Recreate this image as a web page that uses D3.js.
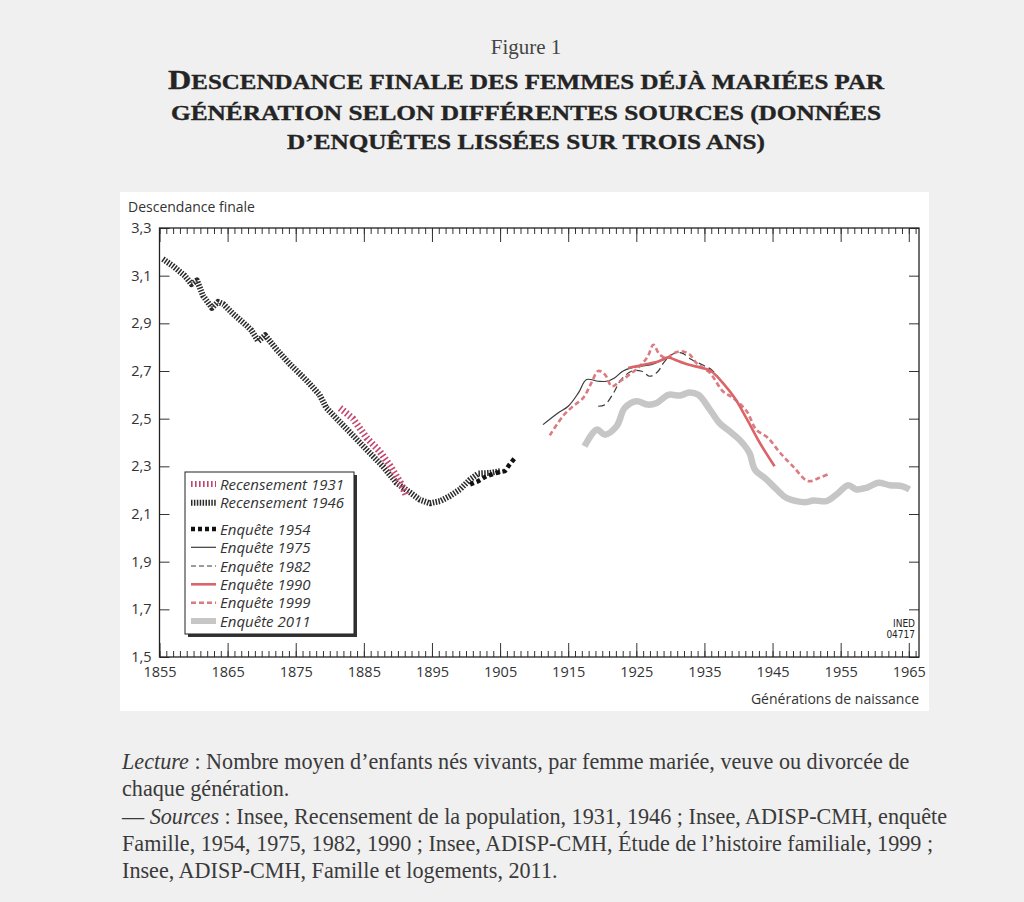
<!DOCTYPE html>
<html>
<head>
<meta charset="utf-8">
<script src="https://cdn.jsdelivr.net/npm/d3@7"></script>
<style>
  body { margin: 0; background: #f0f0f0; }
  svg { display: block; }
</style>
</head>
<body>
<script>
const rec1931 = [[1881.5,2.545],[1883.4,2.50],[1885.4,2.42],[1887.4,2.36],[1888.9,2.30],[1890.4,2.23],[1891.2,2.18]];
const rec1946 = [[1855.5,3.17],[1857,3.14],[1858.7,3.10],[1859.7,3.065],[1860.5,3.08],[1861.4,3.015],[1862.7,2.965],
  [1863.6,2.99],[1864.4,2.98],[1865.8,2.94],[1867.8,2.89],[1868.5,2.87],[1869.5,2.825],[1870.5,2.85],[1872.2,2.79],
  [1874.1,2.73],[1876.6,2.66],[1878.5,2.60],[1879.5,2.545],[1881,2.50],[1883.4,2.43],[1885.4,2.37],[1887.8,2.30],
  [1889.8,2.23],[1891.8,2.19],[1893.2,2.16],[1894.7,2.145],[1896.2,2.154],[1897.6,2.175],[1899.1,2.203],
  [1900.6,2.245],[1901.8,2.27],[1903.5,2.272],[1905,2.28]];
const enq1954 = [[1900.6,2.224],[1901.8,2.238],[1903,2.259],[1904.5,2.273],[1905.7,2.28],[1906.4,2.308],[1907.2,2.336]];
const enq1975 = [[1911.3,2.475],[1913.5,2.524],[1915,2.552],[1916.5,2.608],[1917.7,2.664],[1919.4,2.657],[1920.6,2.657],
  [1921.8,2.671],[1923,2.699],[1924.3,2.713],[1925.8,2.72],[1927.2,2.727],[1928.7,2.744],[1929.7,2.755]];
const enq1982 = [[1919.4,2.552],[1920.4,2.559],[1921.8,2.615],[1922.6,2.657],[1924.3,2.699],[1925.8,2.699],[1927,2.678],
  [1928.2,2.699],[1929,2.734],[1930.2,2.769],[1931.6,2.776],[1933.1,2.748],[1934.6,2.727],[1936,2.706],[1937.3,2.664]];
const enq1990 = [[1923.8,2.713],[1926.2,2.727],[1928.2,2.74],[1929.7,2.757],[1930.6,2.748],[1932.6,2.727],[1934.6,2.713],
  [1936,2.699],[1938,2.64],[1939.5,2.585],[1941.2,2.50],[1943.1,2.40],[1945.3,2.30]];
const enq1999 = [[1912.3,2.43],[1914.2,2.51],[1915.7,2.552],[1917.2,2.587],[1918.4,2.65],[1919.4,2.70],[1920.4,2.685],
  [1921.4,2.636],[1922.6,2.657],[1924,2.685],[1925.5,2.72],[1926.7,2.762],[1927.5,2.81],[1928.4,2.77],[1929.4,2.755],
  [1930.6,2.776],[1931.6,2.783],[1932.8,2.77],[1933.8,2.734],[1935.8,2.692],[1937.7,2.615],[1939.2,2.587],
  [1941.2,2.531],[1942.6,2.454],[1944.3,2.42],[1946.1,2.357],[1948,2.30],[1950.2,2.238],[1951.9,2.252],[1953.1,2.266]];
const enq2011 = [[1917.4,2.384],[1919.2,2.454],[1920.4,2.433],[1922.1,2.468],[1923.3,2.545],[1925,2.573],[1926.7,2.559],
  [1928,2.566],[1929.7,2.60],[1931.4,2.597],[1932.8,2.61],[1934.1,2.60],[1935.8,2.538],[1937.2,2.482],[1938.7,2.447],
  [1940.2,2.41],[1941.6,2.357],[1942.4,2.287],[1944.1,2.245],[1945.6,2.203],[1947,2.168],[1948.5,2.154],[1950,2.15],
  [1951,2.157],[1952.9,2.154],[1954.4,2.182],[1956.1,2.221],[1957.3,2.203],[1958.8,2.21],[1960.5,2.231],[1962.2,2.221],
  [1964.1,2.216],[1965.1,2.203]];

const seriesNames = ["Recensement 1931", "Recensement 1946", "Enquête 1954", "Enquête 1975",
                     "Enquête 1982", "Enquête 1990", "Enquête 1999", "Enquête 2011"];
const seriesData = [rec1931, rec1946, enq1954, enq1975, enq1982, enq1990, enq1999, enq2011];
const xMajor = [1855, 1865, 1875, 1885, 1895, 1905, 1915, 1925, 1935, 1945, 1955, 1965];
const xMinor = d3.range(1855, 1967);
const yTicks = [1.5, 1.7, 1.9, 2.1, 2.3, 2.5, 2.7, 2.9, 3.1, 3.3];

// line styles, same order as seriesNames
const styles = [
  { color: "#c4456c", width: 7,   dash: "1.6 2.4", curve: d3.curveLinear },
  { color: "#2b2b2b", width: 6,   dash: "1.5 1.4", curve: d3.curveLinear },
  { color: "#111",    width: 4.5, dash: "4 3",     curve: d3.curveLinear },
  { color: "#3a3a3a", width: 1.2, dash: null,      curve: d3.curveCatmullRom },
  { color: "#3a3a3a", width: 1.2, dash: "7 4",     curve: d3.curveCatmullRom },
  { color: "#da6467", width: 2.6, dash: null,      curve: d3.curveCatmullRom },
  { color: "#dc7a80", width: 2.6, dash: "5 3",     curve: d3.curveCatmullRom },
  { color: "#c6c6c6", width: 6.5, dash: null,      curve: d3.curveCatmullRom }
];

const svg = d3.select("body").append("svg")
              .attr("width", 1024)
              .attr("height", 902)

const serif = "'Liberation Serif', 'DejaVu Serif', serif";
const sans = "'Open Sans', 'Noto Sans', sans-serif";

// scale a text element's font-size so that it fills a given width
const fit = (sel, w) => {
  const fs = parseFloat(sel.attr("font-size"));
  const len = sel.node().getComputedTextLength();
  return fs * w / len;
}

// ---------- heading ----------
svg.append("text")
   .attr("x", 526).attr("y", 54)
   .attr("text-anchor", "middle")
   .attr("font-family", serif)
   .attr("font-size", 21)
   .attr("fill", "#444")
   .text("Figure 1")

const titleLines = ["Descendance finale des femmes déjà mariées par",
                    "génération selon différentes sources (données",
                    "d’enquêtes lissées sur trois ans)"];
const titleY = [88.5, 119.5, 149];
const titleW = [716, 710, 478];
// small capitals: everything in upper case, the initial one size larger
titleLines.forEach((t, i) => {
  const txt = svg.append("text")
     .attr("x", 526)
     .attr("y", titleY[i])
     .attr("text-anchor", "middle")
     .attr("font-family", serif)
     .attr("font-weight", "bold")
     .attr("font-size", 20.5)
     .attr("fill", "#242424")
     .attr("stroke", "#242424")
     .attr("stroke-width", 0.35)
  if (i === 0) {
    txt.append("tspan").attr("font-size", 26.5).text(t[0].toUpperCase());
    txt.append("tspan").text(t.slice(1).toUpperCase());
  } else {
    txt.text(t.toUpperCase());
  }
  txt.attr("textLength", titleW[i]).attr("lengthAdjust", "spacingAndGlyphs")
})

// ---------- chart panel ----------
svg.append("rect")
   .attr("x", 120).attr("y", 192)
   .attr("width", 809).attr("height", 519)
   .attr("fill", "#fff")

const pL = 159.5, pR = 919, pT = 228, pB = 657;
const x = d3.scaleLinear().domain([1855, 1966.5]).range([pL, pR]);
const y = d3.scaleLinear().domain([1.5, 3.3]).range([pB, pT]);
const fr = d3.formatLocale({ decimal: ",", thousands: " ", grouping: [3], currency: ["", "€"] });
const yFmt = fr.format(".1f");

const axisStyle = g => {
  g.select(".domain").remove();
  g.selectAll("line").attr("stroke", "#333").attr("stroke-width", 1);
  g.selectAll("text").attr("font-family", sans).attr("font-size", 14.5).attr("fill", "#333");
}

svg.append("g").attr("transform", `translate(0,${pB})`)
   .call(d3.axisBottom(x).tickValues(xMinor).tickSize(-6).tickFormat(""))
   .call(axisStyle)
svg.append("g").attr("transform", `translate(0,${pB})`)
   .call(d3.axisBottom(x).tickValues(xMajor).tickSize(-14).tickPadding(10).tickFormat(d3.format("d")))
   .call(axisStyle)
svg.append("g").attr("transform", `translate(0,${pT})`)
   .call(d3.axisTop(x).tickValues(xMinor).tickSize(-6).tickFormat(""))
   .call(axisStyle)
svg.append("g").attr("transform", `translate(0,${pT})`)
   .call(d3.axisTop(x).tickValues(xMajor).tickSize(-14).tickFormat(""))
   .call(axisStyle)
svg.append("g").attr("transform", `translate(${pL},0)`)
   .call(d3.axisLeft(y).tickValues(yTicks).tickSize(-10).tickPadding(8).tickFormat(yFmt))
   .call(axisStyle)
svg.append("g").attr("transform", `translate(${pR},0)`)
   .call(d3.axisRight(y).tickValues(yTicks).tickSize(-10).tickFormat(""))
   .call(axisStyle)

svg.append("rect")
   .attr("x", pL).attr("y", pT)
   .attr("width", pR - pL).attr("height", pB - pT)
   .attr("fill", "none")
   .attr("stroke", "#222")
   .attr("stroke-width", 1.3)

svg.append("text")
   .attr("x", 128).attr("y", 212)
   .attr("font-family", sans).attr("font-size", 14).attr("fill", "#333")
   .text("Descendance finale")

svg.append("text")
   .attr("x", pR).attr("y", 704)
   .attr("text-anchor", "end")
   .attr("font-family", sans).attr("font-size", 14).attr("fill", "#333")
   .text("Générations de naissance")

const inedFont = "'DejaVu Sans Condensed', 'DejaVu Sans', sans-serif";
svg.append("text")
   .attr("x", 915).attr("y", 627)
   .attr("text-anchor", "end")
   .attr("font-family", inedFont).attr("font-size", 10).attr("fill", "#222")
   .text("INED")
svg.append("text")
   .attr("x", 915).attr("y", 638)
   .attr("text-anchor", "end")
   .attr("font-family", inedFont).attr("font-size", 10).attr("fill", "#222")
   .text("04717")

// ---------- series ----------
// draw order: the grey 2011 curve first, census lines, then surveys
const drawOrder = [7, 1, 0, 2, 3, 4, 6, 5];
const plot = svg.append("g").attr("fill", "none");
drawOrder.forEach(i => {
  const st = styles[i];
  const line = d3.line().x(d => x(d[0])).y(d => y(d[1])).curve(st.curve);
  plot.append("path")
      .datum(seriesData[i])
      .attr("d", line)
      .attr("stroke", st.color)
      .attr("stroke-width", st.width)
      .attr("stroke-dasharray", st.dash)
      .attr("stroke-linejoin", "round")
})

// ---------- legend ----------
const legendY = [484, 502.7, 529, 547.3, 566, 584.3, 602.7, 621];
const legend = svg.append("g").attr("id", "legend");
legend.append("rect")
      .attr("x", 188).attr("y", 475).attr("width", 169).attr("height", 162)
      .attr("fill", "#333")
legend.append("rect")
      .attr("x", 185).attr("y", 472).attr("width", 169).attr("height", 162)
      .attr("fill", "#fff").attr("stroke", "#222").attr("stroke-width", 1)

const item = legend.selectAll("g.item")
      .data(seriesNames)
      .enter()
      .append("g")
      .attr("class", "item")
      .attr("transform", (d, i) => `translate(0,${legendY[i]})`)
item.append("line")
    .attr("x1", 191).attr("x2", 216)
    .attr("stroke", (d, i) => styles[i].color)
    .attr("stroke-width", (d, i) => Math.min(styles[i].width, 6))
    .attr("stroke-dasharray", (d, i) => styles[i].dash === "7 4" ? "5 3" : styles[i].dash)
item.append("text")
    .attr("x", 220).attr("y", 5.5)
    .attr("font-family", sans).attr("font-style", "italic")
    .attr("font-size", 15).attr("fill", "#333")
    .text(d => d)

// ---------- caption ----------
const captionY = [769, 796, 823.5, 851, 878];
const cap = svg.append("g")
   .attr("font-family", serif)
   .attr("fill", "#3a3a3a")
const capText = captionY.map(yy => cap.append("text").attr("x", 122).attr("y", yy).attr("font-size", 20));
capText[0].append("tspan").attr("font-style", "italic").text("Lecture");
capText[0].append("tspan").text(" : Nombre moyen d’enfants nés vivants, par femme mariée, veuve ou divorcée de");
capText[1].text("chaque génération.");
capText[2].append("tspan").text("— ");
capText[2].append("tspan").attr("font-style", "italic").text("Sources");
capText[2].append("tspan").text(" : Insee, Recensement de la population, 1931, 1946 ; Insee, ADISP-CMH, enquête");
capText[3].text("Famille, 1954, 1975, 1982, 1990 ; Insee, ADISP-CMH, Étude de l’histoire familiale, 1999 ;");
capText[4].text("Insee, ADISP-CMH, Famille et logements, 2011.");
const capSize = fit(capText[0], 788);
capText.forEach(t => t.attr("font-size", capSize));
</script>
</body>
</html>
